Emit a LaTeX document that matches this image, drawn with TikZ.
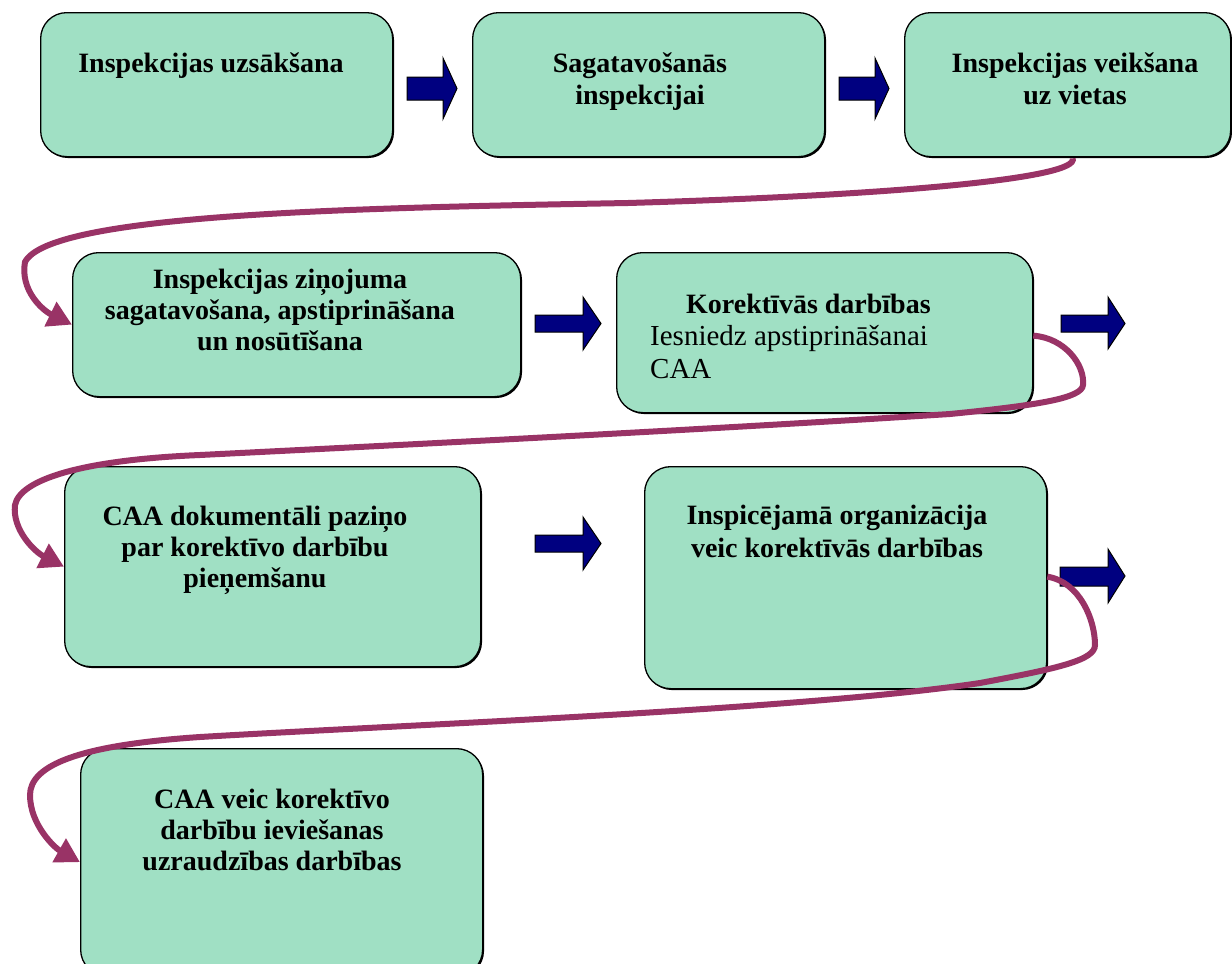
\documentclass[tikz,border=0pt]{standalone}
\usepackage{fontspec}
\setmainfont{Liberation Serif}
\usetikzlibrary{arrows.meta,shadows,calc}
\definecolor{boxgreen}{RGB}{160,224,196}
\definecolor{flowpurple}{RGB}{153,51,102}
\definecolor{navyblue}{RGB}{0,0,128}
\begin{document}
\begin{tikzpicture}[x=1pt,y=-1pt,
  box/.style={draw=black, line width=1.3pt, fill=boxgreen, rounded corners=26pt, anchor=north west, inner sep=0pt,
    drop shadow={shadow xshift=1.4pt, shadow yshift=-1.4pt, fill=black, opacity=1}},
  boxtext/.style={font=\fontsize{28}{32.5}\selectfont\bfseries, align=center, anchor=base, inner sep=0pt},
  tighttext/.style={boxtext, font=\fontsize{28}{31}\selectfont\bfseries},
  flow/.style={draw=flowpurple, line width=6pt, -{Triangle[length=24pt,width=26pt]}},
  blockarrow/.style={draw=black, line width=1pt, fill=navyblue, line join=miter}]
\useasboundingbox (0,0) rectangle (1232,964);
\fill[white] (0,0) rectangle (1232,964);
\clip (0,0) rectangle (1232,964);

% boxes
\node[box, minimum width=352pt, minimum height=144pt] (b1) at (40,12) {};
\node[box, minimum width=352pt, minimum height=144pt] (b2) at (472,12) {};
\node[box, minimum width=326pt, minimum height=144pt] (b3) at (904,12) {};
\node[box, minimum width=448pt, minimum height=144pt] (b4) at (72,252) {};
\node[box, minimum width=416pt, minimum height=160pt] (b5) at (616,252) {};
\node[box, minimum width=416pt, minimum height=200pt] (b6) at (64,466) {};
\node[box, minimum width=402pt, minimum height=222pt] (b7) at (644,466) {};
\node[box, minimum width=402pt, minimum height=227pt] (b8) at (80,748) {};

% texts (anchor = baseline of the last line)
\node[boxtext] (t1) at (211,72) {Inspekcijas uzsākšana};
\node[boxtext] (t2) at (640,104.5) {Sagatavošanās\\inspekcijai};
\node[boxtext] (t3) at (1075,104.5) {Inspekcijas veikšana\\uz vietas};
\node[tighttext] (t4) at (280,350) {Inspekcijas ziņojuma\\sagatavošana, apstiprināšana\\un nosūtīšana};
\node[boxtext, align=left, anchor=base west] (t5) at (650,378)
  {\hspace*{36pt}Korektīvās darbības\\{\mdseries\fontsize{29}{33}\selectfont Iesniedz apstiprināšanai}\\{\mdseries\fontsize{29}{33}\selectfont CAA}};
\node[tighttext] (t6) at (255,587) {CAA dokumentāli paziņo\\par korektīvo darbību\\pieņemšanu};
\node[boxtext] (t7) at (837,557) {Inspicējamā organizācija\\veic korektīvās darbības};
\node[tighttext] (t8) at (272,870) {CAA veic korektīvo\\darbību ieviešanas\\uzraudzības darbības};

% block arrows
\draw[blockarrow] (407,77) -- (443,77) -- (443,58) -- (457,88.5) -- (443,119) -- (443,100) -- (407,100) -- cycle;
\draw[blockarrow] (839,77) -- (875,77) -- (875,58) -- (889,88.5) -- (875,119) -- (875,100) -- (839,100) -- cycle;
\draw[blockarrow] (535,315) -- (583,315) -- (583,297) -- (601,323.5) -- (583,350) -- (583,332) -- (535,332) -- cycle;
\draw[blockarrow] (1061,315) -- (1108,315) -- (1108,297) -- (1125,323.5) -- (1108,349) -- (1108,332) -- (1061,332) -- cycle;
\draw[blockarrow] (535,535) -- (583,535) -- (583,517) -- (601,543.5) -- (583,570) -- (583,552) -- (535,552) -- cycle;
\draw[blockarrow] (1060,567) -- (1108,567) -- (1108,549) -- (1125,576) -- (1108,603) -- (1108,586) -- (1060,586) -- cycle;

% flow curves
\draw[flow] ($(b3.south)+(5,1)$) .. controls (1080,178) and (900,195) .. (628,203)
  .. controls (350,208) and (50,214) .. (25,262)
  .. controls (20,290) and (42,310) .. (b4.west);
\draw[flow] ($(b5.east)+(0,3)$) .. controls (1065,338) and (1085,365) .. (1083,385)
  .. controls (1082,398) and (1040,405) .. (950,414)
  .. controls (700,430) and (400,445) .. (200,455)
  .. controls (80,460) and (20,480) .. (15,505)
  .. controls (12,530) and (35,552) .. (b6.west);
\draw[flow] ($(b7.east)+(0,-1)$) .. controls (1080,582) and (1095,620) .. (1095,645)
  .. controls (1095,660) and (1060,668) .. (980,683)
  .. controls (800,710) and (400,725) .. (200,737)
  .. controls (80,745) and (30,765) .. (30,795)
  .. controls (30,825) and (55,848) .. (b8.west);
\end{tikzpicture}
\end{document}
